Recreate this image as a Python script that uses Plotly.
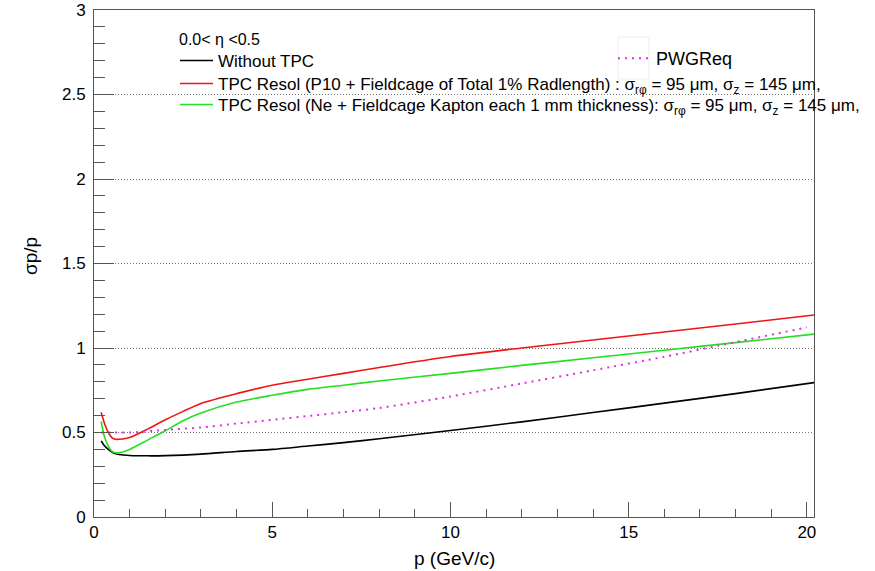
import plotly.graph_objects as go

# ---- data ----
p_black = [0.2, 0.3, 0.4, 0.55, 0.7, 1.0, 1.5, 2.0, 3.0, 4.0, 5.0, 6.0, 7.0, 8.0, 10, 12, 14, 16, 18, 20.2]
sig_black = [0.45, 0.42, 0.40, 0.378, 0.37, 0.364, 0.362, 0.363, 0.372, 0.388, 0.40, 0.42, 0.44, 0.463, 0.512, 0.563, 0.618, 0.674, 0.73, 0.795]

p_red = [0.2, 0.3, 0.4, 0.5, 0.6, 0.8, 1.0, 1.5, 2.0, 2.5, 3.0, 4.0, 5.0, 6.0, 7.0, 8.0, 10, 12, 14, 16, 18, 20.2]
sig_red = [0.62, 0.55, 0.50, 0.47, 0.46, 0.462, 0.47, 0.52, 0.575, 0.625, 0.672, 0.73, 0.78, 0.815, 0.85, 0.885, 0.95, 1.0, 1.047, 1.095, 1.142, 1.195]

p_green = [0.2, 0.3, 0.4, 0.5, 0.6, 0.8, 1.0, 1.5, 2.0, 2.5, 3.0, 4.0, 5.0, 6.0, 7.0, 8.0, 10, 12, 14, 16, 18, 20.2]
sig_green = [0.565, 0.47, 0.42, 0.39, 0.38, 0.385, 0.40, 0.455, 0.51, 0.57, 0.615, 0.68, 0.72, 0.755, 0.78, 0.805, 0.85, 0.897, 0.942, 0.987, 1.032, 1.082]

p_req = [0.2, 0.5, 1.0, 2.0, 3.0, 4.0, 5.0, 6.0, 7.0, 8.0, 10, 12, 14, 16, 18, 20]
sig_req = [0.50, 0.50, 0.50, 0.515, 0.53, 0.553, 0.575, 0.597, 0.62, 0.645, 0.713, 0.79, 0.868, 0.948, 1.035, 1.122]

name_black = "Without TPC"
name_red = "TPC Resol (P10 + Fieldcage of Total 1% Radlength) : σ<sub>rφ</sub> = 95 μm, σ<sub>z</sub> = 145 μm,"
name_green = "TPC Resol (Ne + Fieldcage Kapton each 1 mm thickness): σ<sub>rφ</sub> = 95 μm, σ<sub>z</sub> = 145 μm,"
name_req = "PWGReq"
legend_header = "0.0< η <0.5"
x_title = "p (GeV/c)"
y_title = "σp/p"

x_ticks = [0, 5, 10, 15, 20]
y_ticks = [0, 0.5, 1, 1.5, 2, 2.5, 3]

FONT = "Liberation Sans, Arial, Helvetica, sans-serif"

W, H = 875, 571
PL, PR, PT, PB = 94, 814, 10, 517          # plot frame in window pixels
pw, ph = PR - PL, PB - PT


def px(xp):
    return (xp - PL) / pw


def py(yp):
    return (PB - yp) / ph


fig = go.Figure()
fig.add_trace(go.Scatter(x=p_black, y=sig_black, mode="lines", name=name_black,
                         line=dict(color="#000000", width=1.6, shape="spline", smoothing=0.7),
                         legend="legend"))
fig.add_trace(go.Scatter(x=p_red, y=sig_red, mode="lines", name=name_red,
                         line=dict(color="#f01414", width=1.6, shape="spline", smoothing=0.7),
                         legend="legend3"))
fig.add_trace(go.Scatter(x=p_green, y=sig_green, mode="lines", name=name_green,
                         line=dict(color="#22e022", width=1.6, shape="spline", smoothing=0.7),
                         legend="legend4"))
fig.add_trace(go.Scatter(x=p_req, y=sig_req, mode="lines", name=name_req,
                         line=dict(color="#e030e0", width=2, dash="2px,5px", shape="spline", smoothing=0.7),
                         legend="legend2"))

axis_line = "#555555"
leg_common = dict(xanchor="left", yanchor="top", bgcolor="rgba(0,0,0,0)", borderwidth=0,
                  itemwidth=33)
fig.update_layout(
    width=W, height=H,
    margin=dict(l=PL, r=W - PR, t=PT, b=H - PB, autoexpand=False),
    paper_bgcolor="white", plot_bgcolor="white",
    font=dict(family=FONT, size=16, color="black"),
    xaxis=dict(range=[0, 20.2], tickvals=x_ticks, ticks="inside", ticklen=15, tickwidth=1,
               tickcolor=axis_line, showline=True, linecolor=axis_line, linewidth=1, mirror=True,
               showgrid=False, zeroline=False, tickfont=dict(size=17, family=FONT),
               ticklabeloverflow="allow",
               minor=dict(dtick=1, ticks="inside", ticklen=8, tickcolor=axis_line, showgrid=False)),
    yaxis=dict(range=[0, 3], tickvals=y_ticks, ticks="inside", ticklen=20, tickwidth=1,
               tickcolor=axis_line, showline=True, linecolor=axis_line, linewidth=1, mirror=True,
               showgrid=True, gridcolor="#777777", griddash="1px,2px", gridwidth=1,
               zeroline=False, tickfont=dict(size=17, family=FONT), ticklabelstandoff=4,
               ticklabeloverflow="allow",
               minor=dict(dtick=0.1, ticks="inside", ticklen=11, tickcolor=axis_line, showgrid=False)),
    legend=dict(x=px(175), y=py(43), font=dict(size=17, family=FONT), **leg_common),
    legend3=dict(x=px(175), y=py(66), font=dict(size=17, family=FONT), **leg_common),
    legend4=dict(x=px(175), y=py(87), font=dict(size=17, family=FONT), **leg_common),
    legend2=dict(x=px(613), y=py(40), font=dict(size=18, family=FONT), **leg_common),
    showlegend=True,
)

# legend header
fig.add_annotation(text=legend_header, xref="paper", yref="paper", x=px(177), y=py(40),
                   xanchor="left", yanchor="middle", showarrow=False,
                   font=dict(size=16, family=FONT, color="black"))

# axis titles
fig.add_annotation(text=x_title, xref="paper", yref="paper", x=px(454), y=py(558),
                   xanchor="center", yanchor="middle", showarrow=False,
                   font=dict(size=19, family=FONT, color="black"))
fig.add_annotation(text=y_title, xref="paper", yref="paper", x=px(30), y=py(256),
                   xanchor="center", yanchor="middle", showarrow=False, textangle=-90,
                   font=dict(size=19, family=FONT, color="black"))

# faint box around the PWGReq legend sample
fig.add_shape(type="rect", xref="paper", yref="paper",
              x0=px(618), x1=px(649), y0=py(79), y1=py(37),
              line=dict(color="#ececec", width=1), fillcolor="rgba(0,0,0,0)", layer="below")

fig.write_html("out.html", config={"displayModeBar": False},
               post_script="document.body.style.margin='0';document.body.style.overflow='hidden';")
